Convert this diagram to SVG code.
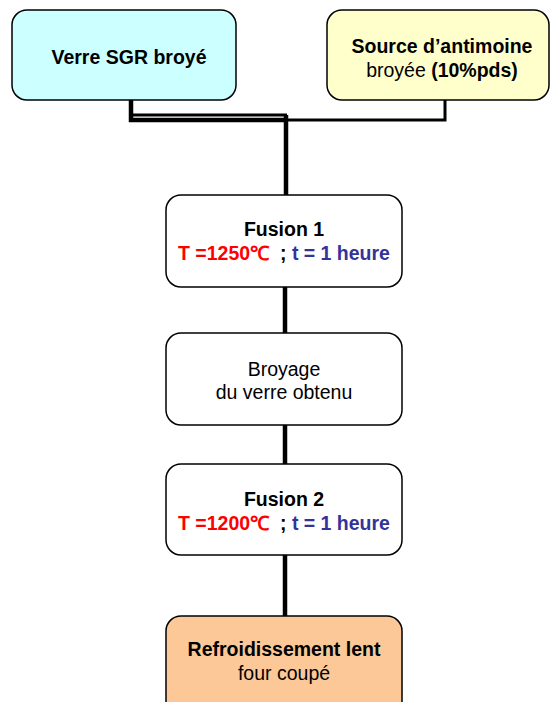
<svg xmlns="http://www.w3.org/2000/svg" width="551" height="702" viewBox="0 0 551 702">
<style>
.box{stroke:#000;stroke-width:1.5}
.t{font-family:"Liberation Sans",Arial,sans-serif;font-size:19.5px;text-anchor:middle;fill:#000}
.b{font-weight:bold}
.red{fill:#ff0000}
.blue{fill:#333399}
.c{fill:none;stroke:#000;stroke-width:4.5}
</style>
<rect width="551" height="702" fill="#fff"/>
<g id="connectors">
<path class="c" d="M131,100 V120 H287"/>
<path class="c" d="M131,115 H287" style="stroke-width:3"/>
<path class="c" d="M445,100 V120 H287" style="stroke-width:3"/>
<path class="c" d="M286,115 V195"/>
<path class="c" d="M285,287 V333"/>
<path class="c" d="M285,425 V464"/>
<path class="c" d="M285,555 V616"/>
</g>
<g id="verre">
<rect class="box" x="12" y="10" width="224" height="90" rx="15" fill="#ccffff"/>
<text class="t b" x="129" y="64">Verre SGR broyé</text>
</g>
<g id="antimoine">
<rect class="box" x="327" y="10" width="222" height="90" rx="15" fill="#ffffcc"/>
<text class="t b" x="442" y="53">Source d’antimoine</text>
<text class="t" x="442" y="77">broyée <tspan class="b">(10%pds)</tspan></text>
</g>
<g id="fusion1">
<rect class="box" x="166" y="195" width="236" height="92" rx="15" fill="#fff"/>
<text class="t b" x="284" y="236">Fusion 1</text>
<text class="t b" x="284" y="260" xml:space="preserve"><tspan class="red">T =1250℃</tspan>  ; <tspan class="blue">t = 1 heure</tspan></text>
</g>
<g id="broyage">
<rect class="box" x="166" y="333" width="236" height="92" rx="15" fill="#fff"/>
<text class="t" x="284" y="376">Broyage</text>
<text class="t" x="284" y="399">du verre obtenu</text>
</g>
<g id="fusion2">
<rect class="box" x="166" y="464" width="236" height="91" rx="15" fill="#fff"/>
<text class="t b" x="284" y="506">Fusion 2</text>
<text class="t b" x="284" y="530" xml:space="preserve"><tspan class="red">T =1200℃</tspan>  ; <tspan class="blue">t = 1 heure</tspan></text>
</g>
<g id="refroid">
<rect class="box" x="166" y="616" width="236" height="100" rx="15" fill="#fcc898"/>
<text class="t b" x="284" y="656">Refroidissement lent</text>
<text class="t" x="284" y="680">four coupé</text>
</g>
</svg>
